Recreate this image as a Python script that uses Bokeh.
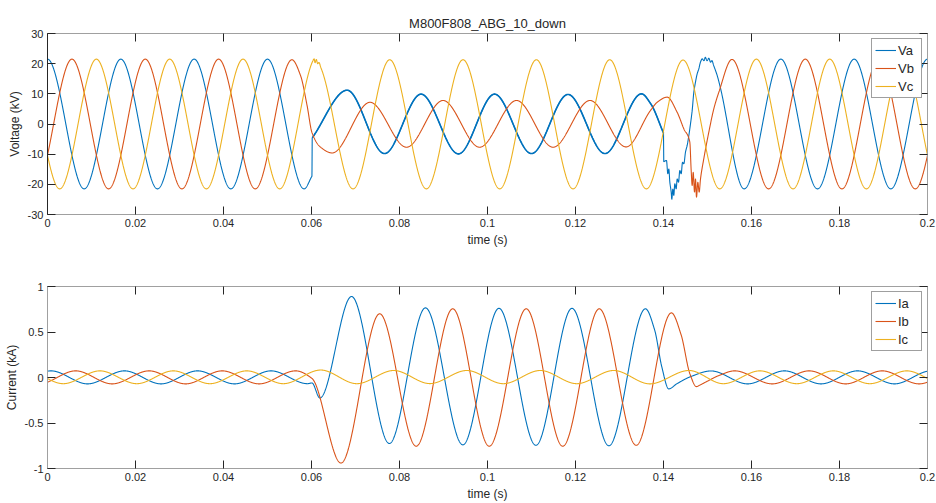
import numpy as np
from bokeh.plotting import figure
from bokeh.layouts import column
from bokeh.models import Range1d, FixedTicker, LinearAxis, Legend, LegendItem
from bokeh.embed import file_html
from bokeh.resources import INLINE

# ---------------- data (extrema / knots) ----------------
TITLE = "M800F808_ABG_10_down"
XTICKS = [0, 0.02, 0.04, 0.06, 0.08, 0.1, 0.12, 0.14, 0.16, 0.18, 0.2]
XLABELS = ["0", "0.02", "0.04", "0.06", "0.08", "0.1", "0.12", "0.14", "0.16", "0.18", "0.2"]
VTICKS = [-30, -20, -10, 0, 10, 20, 30]
VLABELS = ["-30", "-20", "-10", "0", "10", "20", "30"]
ITICKS = [-1, -0.5, 0, 0.5, 1]
ILABELS = ["-1", "-0.5", "0", "0.5", "1"]
FAULT_SPAN = [0.0602, 0.1400]   # noisy (thick-looking) part of Va

va_t = [-0.00833, 0.0, 0.00833, 0.01667, 0.025, 0.03333, 0.04167, 0.05, 0.05833, 0.0601, 0.06016,
        0.0681, 0.0766, 0.0849, 0.0934, 0.1016, 0.1100, 0.1183, 0.1267, 0.1350, 0.1371, 0.1400, 0.14006,
        0.14068, 0.14098, 0.14121, 0.14144, 0.14175, 0.14189, 0.14212, 0.14234, 0.14257, 0.14288, 0.14311,
        0.14341, 0.14371, 0.14402, 0.14432, 0.14462, 0.1450, 0.14538, 0.14576, 0.14614, 0.14652, 0.14689,
        0.14727, 0.14765, 0.14803,
        0.1484, 0.1488, 0.1492, 0.1495, 0.1499, 0.1503, 0.1507, 0.1510, 0.1514, 0.1522, 0.1528,
        0.15833, 0.16667, 0.175, 0.18333, 0.19167, 0.2, 0.20833]
va_v = [-21.5, 21.5, -21.5, 21.5, -21.5, 21.5, -21.5, 21.5, -21.5, -17.3, -4.6,
        11.2, -9.8, 9.9, -9.9, 9.9, -9.8, 9.8, -9.8, 10.0, 6.7, -3.0, -12.5,
        -12.1, -16.5, -14.9, -19.3, -22.6, -25.0, -21.5, -23.7, -19.8, -21.5, -18.2,
        -19.3, -15.4, -16.5, -12.7, -13.2, -9.3, -7.1, -3.8, 0.1, 4.5, 10.5,
        13.9, 16.6, 18.3,
        20.5, 21.6, 21.0, 22.1, 21.0, 21.8, 20.5, 21.0, 19.4, 16.1, 12.8,
        -21.5, 21.5, -21.5, 21.5, -21.5, 21.5, -21.5]

vb_t = [-0.00278, 0.00556, 0.01389, 0.02222, 0.03056, 0.03889, 0.04722, 0.05556, 0.0575, 0.0590, 0.0601,
        0.0620, 0.0647,
        0.0733, 0.0816, 0.0899, 0.0982, 0.1066, 0.1149, 0.1233, 0.1315, 0.13705, 0.13856, 0.14083, 0.1431,
        0.14462, 0.14598,
        0.14629, 0.14652, 0.14675, 0.14705, 0.14727, 0.1475, 0.1478, 0.14811, 0.14841, 0.14916, 0.1503,
        0.15143, 0.15257,
        0.15556, 0.16389, 0.17222, 0.18056, 0.18889, 0.19722, 0.20556]
vb_v = [-21.5, 21.5, -21.5, 21.5, -21.5, 21.5, -21.5, 21.3, 16.1, 6.1, -2.8,
        -7.6, -9.6,
        7.2, -7.7, 7.8, -7.7, 7.8, -7.7, 7.8, -7.6, 4.5, 7.2, 8.9, 3.9,
        -1.6, -6.0,
        -15.4, -20.4, -16.0, -22.6, -18.2, -24.3, -19.3, -22.6, -18.2, -11.5, -2.7,
        5.0, 10.5,
        21.4, -21.5, 21.5, -21.5, 21.5, -21.5, 21.5]

vc_t = [-0.00556, 0.00278, 0.01111, 0.01944, 0.02778, 0.03611, 0.04444, 0.05278, 0.0603, 0.0606, 0.0608,
        0.0611, 0.0614, 0.0617, 0.0621, 0.0626,
        0.06944, 0.07778, 0.08611, 0.09444, 0.10278, 0.11111, 0.11944, 0.12778, 0.13611, 0.14444, 0.15278,
        0.16111, 0.16944, 0.17778, 0.18611, 0.19444, 0.20278]
vc_v = [21.5, -21.5, 21.5, -21.5, 21.5, -21.5, 21.5, -21.5, 20.9, 21.6, 20.3,
        21.4, 20.0, 20.4, 18.8, 16.8,
        -21.5, 21.3, -21.5, 21.3, -21.5, 21.3, -21.5, 21.3, -21.5, 21.2, -21.5,
        21.5, -21.5, 21.5, -21.5, 21.5, -21.5]

ia_t = [-0.0075, 0.0008, 0.0091, 0.0175, 0.0258, 0.0341, 0.0425, 0.0508, 0.0591, 0.0601, 0.0619,
        0.0691, 0.0777, 0.0859, 0.0944, 0.1026, 0.1110, 0.1192, 0.1276, 0.1359, 0.1380, 0.1396, 0.1412,
        0.1430, 0.1462, 0.1508, 0.1591, 0.1675, 0.1758, 0.1841, 0.1925, 0.2008]
ia_v = [-0.070, 0.073, -0.070, 0.073, -0.070, 0.073, -0.070, 0.073, -0.068, -0.060, -0.225,
        0.89, -0.725, 0.765, -0.74, 0.76, -0.745, 0.76, -0.75, 0.755, 0.52, 0.12, -0.125,
        -0.07, 0.01, 0.072, -0.070, 0.073, -0.070, 0.073, -0.070, 0.073]

ib_t = [-0.0103, -0.0019, 0.0064, 0.0147, 0.0231, 0.0314, 0.0397, 0.0481, 0.0564, 0.0601, 0.0667,
        0.0755, 0.0838, 0.0921, 0.1004, 0.1088, 0.1171, 0.1254, 0.1338, 0.1418, 0.1440, 0.1460, 0.1475,
        0.1482, 0.1500, 0.1525, 0.1562, 0.1647, 0.1731, 0.1814, 0.1897, 0.1981, 0.2064]
ib_v = [0.073, -0.070, 0.073, -0.070, 0.073, -0.070, 0.073, -0.070, 0.073, -0.010, -0.94,
        0.70, -0.755, 0.755, -0.755, 0.755, -0.755, 0.755, -0.745, 0.71, 0.47, 0.04, -0.10,
        -0.085, -0.04, 0.02, 0.073, -0.070, 0.073, -0.070, 0.073, -0.070, 0.073]

ic_t = [-0.0047, 0.0036, 0.0119, 0.0203, 0.0286, 0.0369, 0.0453, 0.0536, 0.0621, 0.0703, 0.0787,
        0.0869, 0.0953, 0.1036, 0.1120, 0.1203, 0.1287, 0.1369, 0.1458, 0.1536, 0.1619, 0.1703, 0.1786,
        0.1869, 0.1953, 0.2036]
ic_v = [0.073, -0.068, 0.073, -0.068, 0.073, -0.068, 0.073, -0.068, 0.082, -0.068, 0.077,
        -0.067, 0.077, -0.068, 0.077, -0.068, 0.077, -0.070, 0.077, -0.068, 0.073, -0.068, 0.073,
        -0.068, 0.073, -0.068]

# ---------------- styling ----------------
C_A, C_B, C_C = "#0072BD", "#D95319", "#EDB120"
FONT = "Liberation Sans"
TXT = "#262626"
LW = 1.1
JUMP = 0.0001


def smooth_curve(tk, vk, n=4401):
    tk = np.asarray(tk, float)
    vk = np.asarray(vk, float)
    h = np.diff(tk)
    d = np.diff(vk) / h
    m = np.zeros(len(tk))
    for k in range(1, len(tk) - 1):
        if h[k] < JUMP:
            m[k] = d[k - 1] if h[k - 1] >= JUMP else 0.0
        elif h[k - 1] < JUMP:
            m[k] = d[k]
        elif d[k - 1] * d[k] > 0:
            w1 = 2 * h[k] + h[k - 1]
            w2 = h[k] + 2 * h[k - 1]
            m[k] = (w1 + w2) / (w1 / d[k - 1] + w2 / d[k])
    tt = np.union1d(np.linspace(tk[0], tk[-1], n), tk)
    idx = np.clip(np.searchsorted(tk, tt, side="right") - 1, 0, len(tk) - 2)
    s = (tt - tk[idx]) / h[idx]
    h00 = 2 * s**3 - 3 * s**2 + 1
    h10 = s**3 - 2 * s**2 + s
    h01 = -2 * s**3 + 3 * s**2
    h11 = s**3 - s**2
    vv = h00 * vk[idx] + h10 * h[idx] * m[idx] + h01 * vk[idx + 1] + h11 * h[idx] * m[idx + 1]
    return tt, vv


def style_axis(ax, ticks, labels, line_color, show=True):
    ax.ticker = FixedTicker(ticks=ticks)
    ax.major_label_overrides = {t: (l if show else "") for t, l in zip(ticks, labels)}
    ax.major_tick_in = 8
    ax.major_tick_out = 0
    ax.minor_tick_in = 0
    ax.minor_tick_out = 0
    ax.major_tick_line_color = TXT
    ax.major_tick_line_width = 1
    ax.axis_line_color = line_color
    ax.axis_line_width = 1
    ax.major_label_text_font = FONT
    ax.major_label_text_color = TXT
    if show:
        ax.major_label_text_font_size = "11px"
        ax.major_label_standoff = 4
    else:
        ax.major_label_text_font_size = "1px"
        ax.major_label_standoff = 0
    ax.axis_label_text_font = FONT
    ax.axis_label_text_font_size = "12px"
    ax.axis_label_text_font_style = "normal"
    ax.axis_label_text_color = TXT
    ax.axis_label_standoff = 3


def make_panel(frame_h, top_b, bot_b, yr, yticks, ylabels, ylabel, series, names,
               title=None, yline="#a0a0a0", thick=None):
    p = figure(frame_width=880, frame_height=frame_h,
               min_border_left=47, min_border_right=9, min_border_top=top_b, min_border_bottom=bot_b,
               x_range=Range1d(0, 0.2), y_range=Range1d(*yr),
               output_backend="svg", toolbar_location=None, title=title)
    p.grid.visible = False
    p.outline_line_color = None
    p.background_fill_color = "white"
    p.border_fill_color = "white"
    if title:
        p.title.align = "center"
        p.title.text_font = FONT
        p.title.text_font_size = "13px"
        p.title.text_font_style = "normal"
        p.title.text_color = TXT
        p.title.standoff = 6
    style_axis(p.xaxis[0], XTICKS, XLABELS, "#a0a0a0")
    p.xaxis[0].axis_label = "time (s)"
    style_axis(p.yaxis[0], yticks, ylabels, yline)
    p.yaxis[0].axis_label = ylabel
    top = LinearAxis()
    style_axis(top, XTICKS, XLABELS, "#a0a0a0", show=False)
    p.add_layout(top, "above")
    right = LinearAxis()
    style_axis(right, yticks, ylabels, "#a0a0a0", show=False)
    p.add_layout(right, "right")

    items = []
    for i, ((tk, vk, col), name) in enumerate(zip(series, names)):
        tt, vv = smooth_curve(tk, vk)
        r = p.line(tt, vv, line_color=col, line_width=LW)
        if thick is not None and i == 0:
            mask = (tt >= thick[0]) & (tt <= thick[1])
            p.line(tt[mask], vv[mask], line_color=col, line_width=1.6)
        items.append(LegendItem(label=name, renderers=[r]))
    leg = Legend(items=items, location="top_right", margin=5, padding=3, spacing=2,
                 glyph_width=21, glyph_height=16, label_height=16, label_standoff=2,
                 label_text_font=FONT, label_text_font_size="13px", label_text_color=TXT,
                 border_line_color="#404040", border_line_width=1,
                 background_fill_color="white", background_fill_alpha=1.0)
    p.add_layout(leg)
    return p


p1 = make_panel(181, 33, 37, (-30, 30), VTICKS, VLABELS, "Voltage (kV)",
                [(va_t, va_v, C_A), (vb_t, vb_v, C_B), (vc_t, vc_v, C_C)], ["Va", "Vb", "Vc"],
                title=TITLE, yline="#262626", thick=FAULT_SPAN)
p2 = make_panel(182, 35, 35, (-1, 1), ITICKS, ILABELS, "Current (kA)",
                [(ia_t, ia_v, C_A), (ib_t, ib_v, C_B), (ic_t, ic_v, C_C)], ["Ia", "Ib", "Ic"])

layout = column(p1, p2, spacing=0)
open("out.html", "w").write(file_html(layout, INLINE, title=TITLE))
